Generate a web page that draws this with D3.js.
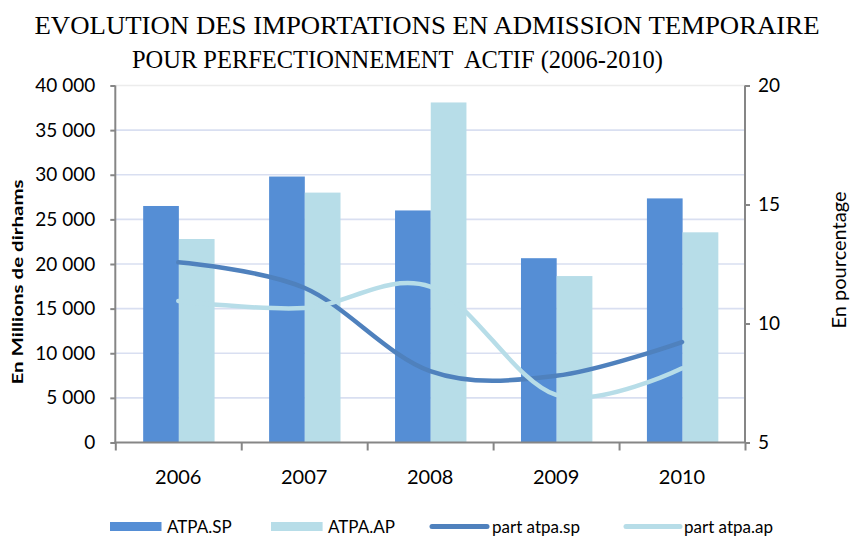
<!DOCTYPE html>
<html>
<head>
<meta charset="utf-8">
<script src="https://cdn.jsdelivr.net/npm/d3@7"></script>
<style>
  html, body { margin: 0; padding: 0; background: #ffffff; }
  svg { display: block; }
</style>
</head>
<body>
<svg id="chart" width="853" height="539"></svg>
<script>
// ---- DATA ----
const years = ["2006", "2007", "2008", "2009", "2010"];
const atpaSP = [26500, 29800, 26000, 20650, 27350];
const atpaAP = [22800, 28000, 38100, 18650, 23550];
const partSP = [12.57, 11.5, 8.0, 7.8, 9.22];
const partAP = [10.95, 10.65, 11.55, 7.0, 8.12];
const leftTicks = [0, 5000, 10000, 15000, 20000, 25000, 30000, 35000, 40000];
const rightTicks = [5, 10, 15, 20];
const seriesNames = ["ATPA.SP", "ATPA.AP", "part atpa.sp", "part atpa.ap"];
const titleLines = ["EVOLUTION DES IMPORTATIONS EN ADMISSION TEMPORAIRE", "POUR PERFECTIONNEMENT  ACTIF (2006-2010)"];

// ---- STYLE ----
const C_SP = "#558ed5", C_AP = "#b7dde8", C_LSP = "#4f81bd", C_LAP = "#b7dde8";
const AXIS = "#868686", GRID = "#d9dff1";
const FONT = "Lato, 'Open Sans', sans-serif";

const svg = d3.select("#chart");
const L = 115.3, R = 745, T = 85.5, B = 442.5;

const x = d3.scaleBand().domain(years).range([L, R]).paddingInner(0).paddingOuter(0);
const yL = d3.scaleLinear().domain([0, 40000]).range([B, T]);
const yR = d3.scaleLinear().domain([5, 20]).range([B, T]);
const pairW = x.bandwidth() * 0.567;
const xs = d3.scaleBand().domain(["SP", "AP"]).range([-pairW / 2, pairW / 2]);
const cx = d => x(d) + x.bandwidth() / 2 + 0.6;

const loc = d3.formatLocale({ decimal: ",", thousands: " ", grouping: [3], currency: ["", ""] });
const fmt = loc.format(",");

// Title
svg.append("text").attr("x", 427).attr("y", 34).attr("text-anchor", "middle")
  .attr("font-family", "'Liberation Serif', 'Times New Roman', serif").attr("font-size", 26)
  .attr("textLength", 785).attr("lengthAdjust", "spacingAndGlyphs")
  .attr("fill", "#000").text(titleLines[0]);
svg.append("text").attr("x", 397.5).attr("y", 68).attr("text-anchor", "middle")
  .attr("font-family", "'Liberation Serif', 'Times New Roman', serif").attr("font-size", 26)
  .attr("textLength", 531).attr("lengthAdjust", "spacingAndGlyphs")
  .style("white-space", "pre").attr("xml:space", "preserve")
  .attr("fill", "#000").text(titleLines[1]);

// Gridlines
svg.append("g").selectAll("line").data(leftTicks.filter(t => t > 0)).join("line")
  .attr("x1", L).attr("x2", R)
  .attr("y1", d => yL(d)).attr("y2", d => yL(d))
  .attr("stroke", d => d === 40000 ? "#ececec" : GRID).attr("stroke-width", 1.7);

// Bars
const bars = svg.append("g");
years.forEach((yr, i) => {
  bars.append("rect").attr("x", cx(yr) + xs("SP")).attr("width", xs.bandwidth())
    .attr("y", yL(atpaSP[i])).attr("height", B - yL(atpaSP[i])).attr("fill", C_SP);
  bars.append("rect").attr("x", cx(yr) + xs("AP")).attr("width", xs.bandwidth())
    .attr("y", yL(atpaAP[i])).attr("height", B - yL(atpaAP[i])).attr("fill", C_AP);
});

// Axes
const gL = svg.append("g").attr("transform", `translate(${L},0)`)
  .call(d3.axisLeft(yL).tickValues(leftTicks).tickFormat(fmt).tickSize(5).tickPadding(15));
const gR = svg.append("g").attr("transform", `translate(${R},0)`)
  .call(d3.axisRight(yR).tickValues(rightTicks).tickSize(5).tickPadding(8));
const xTicks = years.map(y => x(y)).concat([R]);
const gX = svg.append("g").attr("transform", `translate(0,${B})`)
  .call(d3.axisBottom(d3.scaleLinear().domain([L, R]).range([L, R])).tickValues(xTicks).tickSize(8).tickFormat(""));
[gL, gR, gX].forEach(g => {
  g.select(".domain").attr("stroke", AXIS).attr("stroke-width", 2);
  g.selectAll(".tick line").attr("stroke", AXIS).attr("stroke-width", 2);
  g.selectAll(".tick text").attr("font-family", FONT).attr("font-size", 19).attr("fill", "#000");
});
gX.select(".domain").attr("d", `M${L - 1},0H${R + 1}`);
gL.select(".domain").attr("d", `M0,${T}V${B}`);
gR.select(".domain").attr("d", `M0,${T}V${B}`);

// Year labels
svg.append("g").selectAll("text").data(years).join("text")
  .attr("x", d => x(d) + x.bandwidth() / 2).attr("y", 484)
  .attr("text-anchor", "middle").attr("font-family", FONT).attr("font-size", 20)
  .attr("fill", "#000").text(d => d);

// Lines
const curve = d3.curveCatmullRom.alpha(0);
const lineSP = d3.line().x((d, i) => cx(years[i]) - 0.6).y(d => yR(d)).curve(curve);
svg.append("path").attr("d", lineSP(partSP)).attr("fill", "none")
  .attr("stroke", C_LSP).attr("stroke-width", 4.5).attr("stroke-linecap", "round");
svg.append("path").attr("d", lineSP(partAP)).attr("fill", "none")
  .attr("stroke", C_LAP).attr("stroke-width", 4.5).attr("stroke-linecap", "round");

// Axis titles
svg.append("text").attr("transform", "translate(23,282) rotate(-90)")
  .attr("text-anchor", "middle").attr("font-family", FONT).attr("font-weight", "bold")
  .attr("font-size", 16).attr("textLength", 205).attr("lengthAdjust", "spacingAndGlyphs")
  .attr("fill", "#000").text("En Millions de dirhams");
svg.append("text").attr("transform", "translate(846,260) rotate(-90)")
  .attr("text-anchor", "middle").attr("font-family", FONT)
  .attr("font-size", 20).attr("fill", "#000").text("En pourcentage");

// Legend
const lg = svg.append("g");
const legendItems = [
  { name: seriesNames[0], type: "rect", color: C_SP, x0: 110, x1: 161.5, tx: 167 },
  { name: seriesNames[1], type: "rect", color: C_AP, x0: 271, x1: 322.6, tx: 328 },
  { name: seriesNames[2], type: "line", color: C_LSP, x0: 432, x1: 487, tx: 492 },
  { name: seriesNames[3], type: "line", color: C_LAP, x0: 626, x1: 680, tx: 684 }
];
legendItems.forEach(it => {
  if (it.type === "rect") {
    lg.append("rect").attr("x", it.x0).attr("y", 522).attr("width", it.x1 - it.x0).attr("height", 9).attr("fill", it.color);
  } else {
    lg.append("line").attr("x1", it.x0).attr("x2", it.x1).attr("y1", 526.5).attr("y2", 526.5)
      .attr("stroke", it.color).attr("stroke-width", 5).attr("stroke-linecap", "round");
  }
  lg.append("text").attr("x", it.tx).attr("y", 533).attr("font-family", FONT).attr("font-size", 17)
    .attr("fill", "#000").text(it.name);
});
</script>
</body>
</html>
